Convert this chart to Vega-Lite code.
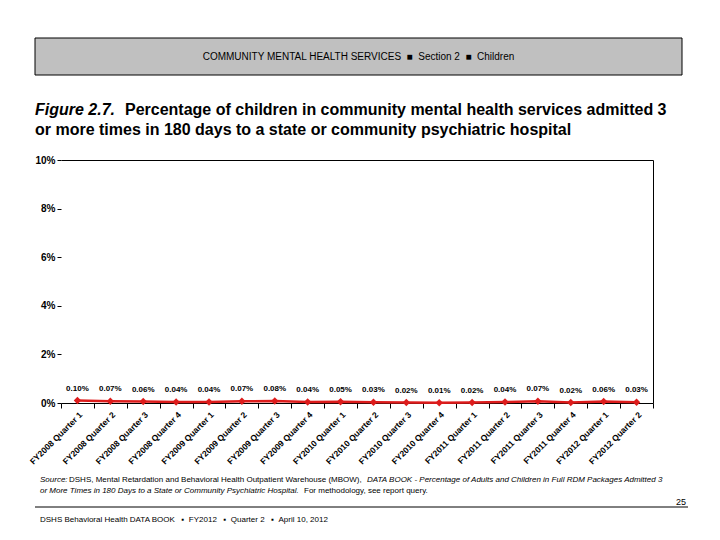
{
  "$schema": "https://vega.github.io/schema/vega-lite/v6.json",
  "padding": {"left": 27, "top": 37, "right": 0, "bottom": 0},
  "background": "white",
  "config": {"font": "Liberation Sans", "view": {"stroke": null}},
  "columns": 1,
  "align": "none",
  "bounds": "full",
  "spacing": 0,
  "concat": [
    {
      "width": 592,
      "height": 37,
      "data": {"values": [{"t": "COMMUNITY MENTAL HEALTH SERVICES \u00a0■\u00a0 Section 2 \u00a0■\u00a0 Children"}]},
      "layer": [
        {"mark": {"type": "rect", "fill": "#c0c0c0", "stroke": "black", "strokeWidth": 1},
         "encoding": {"x": {"value": -26}, "x2": {"value": 621}, "y": {"value": 0}, "y2": {"value": 37}}},
        {"mark": {"type": "text", "fontSize": 10, "color": "black", "align": "center", "baseline": "middle"},
         "encoding": {"text": {"field": "t"}, "x": {"value": 297.5}, "y": {"value": 19}}}
      ]
    },
    {
      "width": 592,
      "height": 78.5,
      "data": {"values": [{}]},
      "layer": [
        {"mark": {"type": "text", "align": "left", "baseline": "alphabetic", "fontSize": 16, "fontWeight": "bold", "fontStyle": "italic", "color": "black"},
         "encoding": {"text": {"value": "Figure 2.7."}, "x": {"value": -26}, "y": {"value": 38.5}}},
        {"mark": {"type": "text", "align": "left", "baseline": "alphabetic", "fontSize": 16, "fontWeight": "bold", "color": "black"},
         "encoding": {"text": {"value": "Percentage of children in community mental health services admitted 3"}, "x": {"value": 64}, "y": {"value": 38.5}}},
        {"mark": {"type": "text", "align": "left", "baseline": "alphabetic", "fontSize": 16, "fontWeight": "bold", "color": "black"},
         "encoding": {"text": {"value": "or more times in 180 days to a state or community psychiatric hospital"}, "x": {"value": -26}, "y": {"value": 59}}}
      ]
    },
    {
      "width": 592,
      "height": 243,
      "data": {"values": [
        {"q": "FY2008 Quarter 1", "v": 0.0010},
        {"q": "FY2008 Quarter 2", "v": 0.0007},
        {"q": "FY2008 Quarter 3", "v": 0.0006},
        {"q": "FY2008 Quarter 4", "v": 0.0004},
        {"q": "FY2009 Quarter 1", "v": 0.0004},
        {"q": "FY2009 Quarter 2", "v": 0.0007},
        {"q": "FY2009 Quarter 3", "v": 0.0008},
        {"q": "FY2009 Quarter 4", "v": 0.0004},
        {"q": "FY2010 Quarter 1", "v": 0.0005},
        {"q": "FY2010 Quarter 2", "v": 0.0003},
        {"q": "FY2010 Quarter 3", "v": 0.0002},
        {"q": "FY2010 Quarter 4", "v": 0.0001},
        {"q": "FY2011 Quarter 1", "v": 0.0002},
        {"q": "FY2011 Quarter 2", "v": 0.0004},
        {"q": "FY2011 Quarter 3", "v": 0.0007},
        {"q": "FY2011 Quarter 4", "v": 0.0002},
        {"q": "FY2012 Quarter 1", "v": 0.0006},
        {"q": "FY2012 Quarter 2", "v": 0.0003}
      ]},
      "layer": [
        {
          "mark": {"type": "line", "color": "#dd1c1c", "strokeWidth": 2.5},
          "encoding": {
            "x": {"field": "q", "type": "ordinal", "sort": null, "bandPosition": 0.5,
                  "scale": {"type": "band", "paddingInner": 0, "paddingOuter": 0},
                  "axis": {"title": null, "labelAngle": -45, "labelFontSize": 8.5, "labelFontWeight": "bold", "labelColor": "black",
                           "tickBand": "extent", "tickSize": 5, "tickColor": "black", "domainColor": "black", "labelPadding": 2,
                           "labelOverlap": false, "labelBound": false}},
            "y": {"field": "v", "type": "quantitative", "scale": {"domain": [0, 0.1]},
                  "axis": {"title": null, "values": [0, 0.02, 0.04, 0.06, 0.08, 0.1], "format": "%", "labelFontSize": 10, "labelFontWeight": "bold",
                           "labelColor": "black", "tickSize": 4, "tickColor": "black", "domain": false, "grid": false, "labelPadding": 2}}
          }
        },
        {
          "mark": {"type": "point", "shape": "diamond", "filled": true, "color": "#dd1c1c", "size": 55, "opacity": 1},
          "encoding": {
            "x": {"field": "q", "type": "ordinal", "sort": null, "bandPosition": 0.5,
                  "axis": {"orient": "top", "title": null, "labels": false, "ticks": false, "domain": true, "domainColor": "black"}},
            "y": {"field": "v", "type": "quantitative",
                  "axis": {"orient": "right", "title": null, "labels": false, "ticks": false, "domain": true, "domainColor": "black", "grid": false}}
          }
        },
        {
          "mark": {"type": "text", "dy": -12, "fontSize": 8, "fontWeight": "bold", "color": "black"},
          "encoding": {
            "x": {"field": "q", "type": "ordinal", "sort": null, "bandPosition": 0.5, "axis": null},
            "y": {"field": "v", "type": "quantitative", "axis": null},
            "text": {"field": "v", "format": ".2%"}
          }
        }
      ],
      "resolve": {"axis": {"x": "independent", "y": "independent"}}
    },
    {
      "width": 592,
      "height": 60,
      "data": {"values": [{}]},
      "layer": [
        {"mark": {"type": "text", "align": "left", "baseline": "alphabetic", "fontSize": 8, "fontStyle": "italic", "color": "black"},
         "encoding": {"text": {"value": "Source:"}, "x": {"value": -21}, "y": {"value": 16}}},
        {"mark": {"type": "text", "align": "left", "baseline": "alphabetic", "fontSize": 8, "color": "black"},
         "encoding": {"text": {"value": "DSHS, Mental Retardation and Behavioral Health Outpatient Warehouse (MBOW),"}, "x": {"value": 8}, "y": {"value": 16}}},
        {"mark": {"type": "text", "align": "left", "baseline": "alphabetic", "fontSize": 8, "fontStyle": "italic", "color": "black"},
         "encoding": {"text": {"value": "DATA BOOK - Percentage of Adults and Children in Full RDM Packages Admitted 3"}, "x": {"value": 306}, "y": {"value": 16}}},
        {"mark": {"type": "text", "align": "left", "baseline": "alphabetic", "fontSize": 8, "fontStyle": "italic", "color": "black"},
         "encoding": {"text": {"value": "or More Times in 180 Days to a State or Community Psychiatric Hospital."}, "x": {"value": -21}, "y": {"value": 27}}},
        {"mark": {"type": "text", "align": "left", "baseline": "alphabetic", "fontSize": 8, "color": "black"},
         "encoding": {"text": {"value": "For methodology, see report query."}, "x": {"value": 243}, "y": {"value": 27}}},
        {"mark": {"type": "text", "align": "right", "baseline": "alphabetic", "fontSize": 9, "color": "black"},
         "encoding": {"text": {"value": "25"}, "x": {"value": 625}, "y": {"value": 39}}},
        {"mark": {"type": "rule", "color": "black", "strokeWidth": 1},
         "encoding": {"x": {"value": -26}, "x2": {"value": 627}, "y": {"value": 41}}},
        {"mark": {"type": "text", "align": "left", "baseline": "alphabetic", "fontSize": 8, "color": "black"},
         "encoding": {"text": {"value": "DSHS Behavioral Health DATA BOOK \u00a0 ▪ \u00a0FY2012 \u00a0 ▪ \u00a0Quarter 2 \u00a0 ▪ \u00a0April 10, 2012"}, "x": {"value": -21}, "y": {"value": 56}}}
      ]
    }
  ]
}
